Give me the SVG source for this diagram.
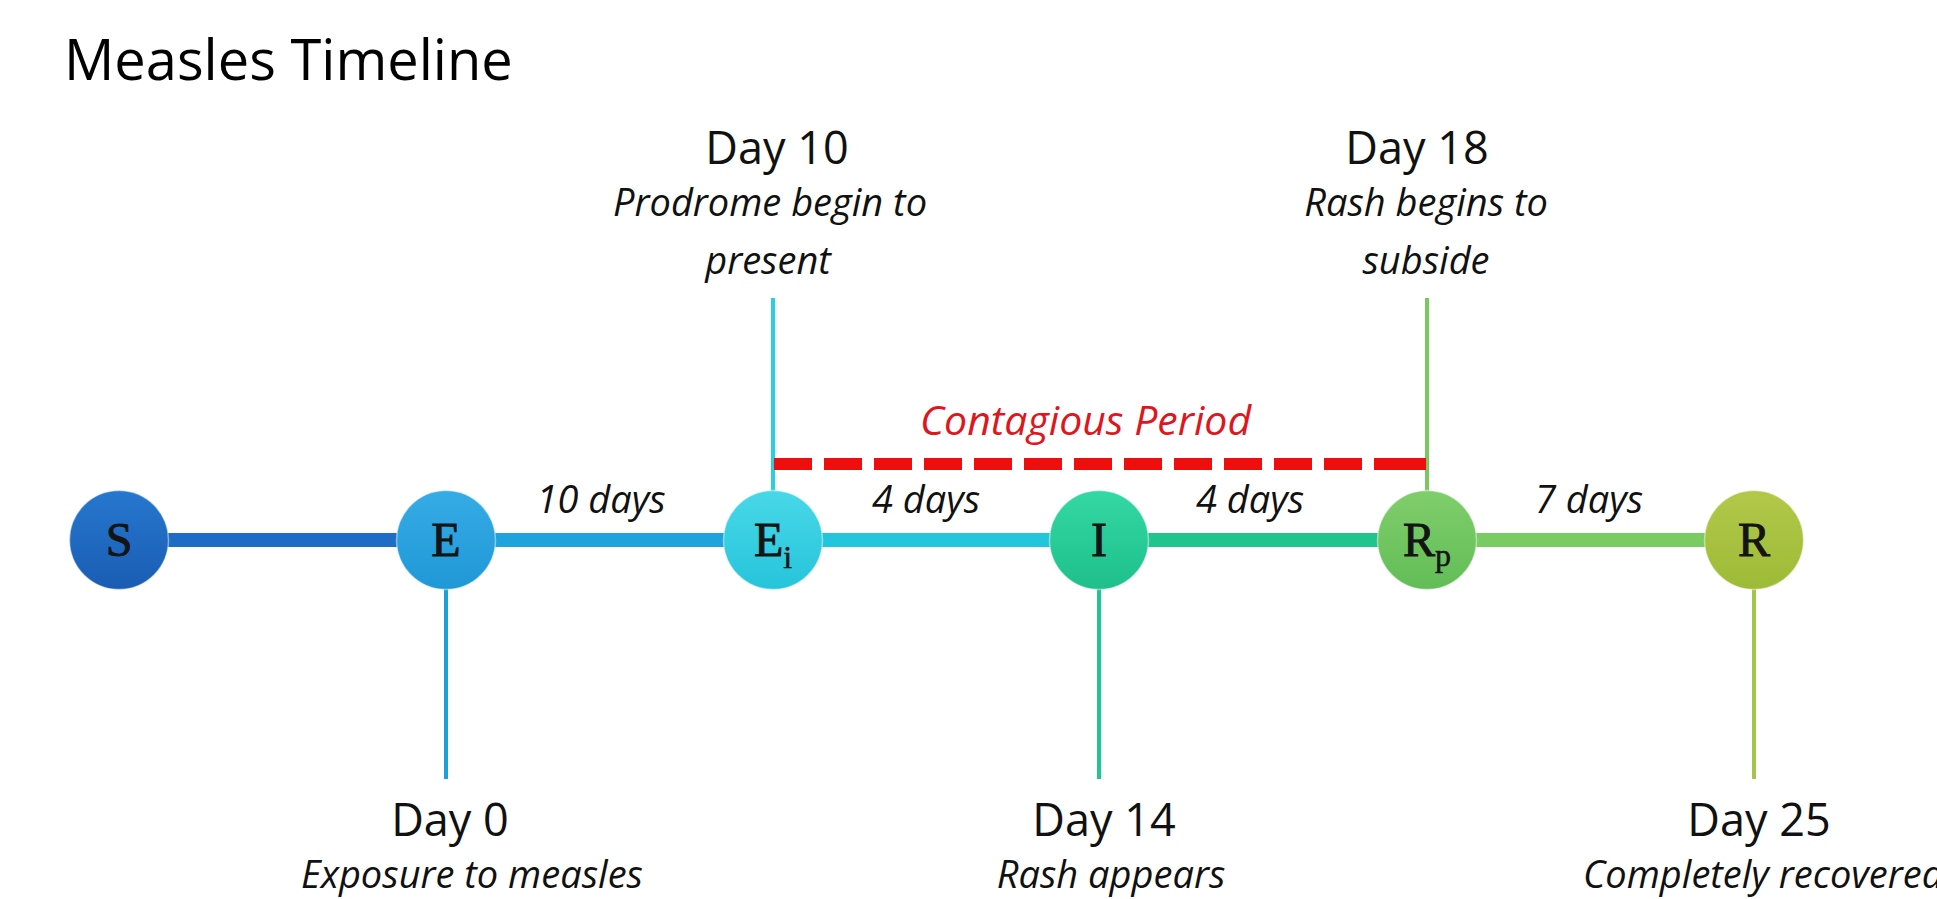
<svg xmlns="http://www.w3.org/2000/svg" width="1937" height="899" viewBox="0 0 1937 899">
<style>
.title{font-family:"Open Sans","Liberation Sans",sans-serif;font-size:56px;fill:#000}
.day{font-family:"Open Sans","Liberation Sans",sans-serif;font-size:45px;fill:#111;text-anchor:middle}
.desc{font-family:"Open Sans","Liberation Sans",sans-serif;font-size:38px;font-style:italic;fill:#111;text-anchor:middle}
.dur{font-family:"Open Sans","Liberation Sans",sans-serif;font-size:38px;font-style:italic;fill:#111;text-anchor:middle}
.red{font-family:"Open Sans","Liberation Sans",sans-serif;font-size:41px;font-style:italic;fill:#e0161e}
.ltr{font-family:"Liberation Serif","DejaVu Serif",serif;font-size:48px;fill:#141414;stroke:#141414;stroke-width:0.9;text-anchor:middle}
.sub{font-size:32px;stroke-width:0.5}
.seg{stroke-width:14;fill:none}
.vl{stroke-width:4;fill:none}
.node{stroke:#ffffff;stroke-opacity:0.45;stroke-width:1.5}
</style>
<defs>
<linearGradient id="gS" x1="0" y1="0" x2="0" y2="1"><stop offset="0" stop-color="#2677cf"/><stop offset="1" stop-color="#1a5db3"/></linearGradient>
<linearGradient id="gE" x1="0" y1="0" x2="0" y2="1"><stop offset="0" stop-color="#36ace6"/><stop offset="1" stop-color="#1f98d6"/></linearGradient>
<linearGradient id="gEi" x1="0" y1="0" x2="0" y2="1"><stop offset="0" stop-color="#48d8e8"/><stop offset="1" stop-color="#26c4da"/></linearGradient>
<linearGradient id="gI" x1="0" y1="0" x2="0" y2="1"><stop offset="0" stop-color="#34d8a2"/><stop offset="1" stop-color="#1ebf8a"/></linearGradient>
<linearGradient id="gRp" x1="0" y1="0" x2="0" y2="1"><stop offset="0" stop-color="#80ce6c"/><stop offset="1" stop-color="#62bd56"/></linearGradient>
<linearGradient id="gR" x1="0" y1="0" x2="0" y2="1"><stop offset="0" stop-color="#b2c84a"/><stop offset="1" stop-color="#9dbb36"/></linearGradient>
</defs>
<rect width="1937" height="899" fill="#ffffff"/>
<text class="title" x="64" y="80">Measles Timeline</text>

<g id="connectors">
<line class="seg" x1="168" y1="540" x2="398" y2="540" stroke="#1d6cc5"/>
<line class="seg" x1="494" y1="540" x2="725" y2="540" stroke="#1fa3dc"/>
<line class="seg" x1="821" y1="540" x2="1051" y2="540" stroke="#22c6dc"/>
<line class="seg" x1="1147" y1="540" x2="1379" y2="540" stroke="#21c48c"/>
<line class="seg" x1="1475" y1="540" x2="1706" y2="540" stroke="#79cb62"/>
<line class="vl" x1="446" y1="589" x2="446" y2="779" stroke="#1ba0d8"/>
<line class="vl" x1="773" y1="298" x2="773" y2="491" stroke="#2ccfe0"/>
<line class="vl" x1="1099" y1="589" x2="1099" y2="779" stroke="#22c490"/>
<line class="vl" x1="1427" y1="298" x2="1427" y2="491" stroke="#78c860"/>
<line class="vl" x1="1754" y1="589" x2="1754" y2="779" stroke="#a4c44c"/>
<g id="contagious">
<line x1="774" y1="464" x2="1374" y2="464" stroke="#ee0e0e" stroke-width="12" stroke-dasharray="38 12"/>
<line x1="1374" y1="464" x2="1426" y2="464" stroke="#ee0e0e" stroke-width="12"/>
</g>
</g>
<text class="dur" x="601" y="513">10 days</text>
<text class="dur" x="926" y="513">4 days</text>
<text class="dur" x="1250" y="513">4 days</text>
<text class="dur" x="1589" y="513">7 days</text>
<text class="red" x="920" y="435">Contagious Period</text>

<g id="node-S">
<circle class="node" cx="119" cy="540" r="49.5" fill="url(#gS)"/>
<text class="ltr" x="119" y="556">S</text>
</g>
<g id="node-E">
<circle class="node" cx="446" cy="540" r="49.5" fill="url(#gE)"/>
<text class="ltr" x="446" y="556">E</text>
<text class="day" x="450" y="836">Day 0</text>
<text class="desc" x="472" y="888">Exposure to measles</text>
</g>
<g id="node-Ei">
<circle class="node" cx="773" cy="540" r="49.5" fill="url(#gEi)"/>
<text class="ltr" x="773" y="556">E<tspan class="sub" dy="12">i</tspan></text>
<text class="day" x="777" y="164">Day 10</text>
<text class="desc" x="770" y="216">Prodrome begin to</text>
<text class="desc" x="768" y="274">present</text>
</g>
<g id="node-I">
<circle class="node" cx="1099" cy="540" r="49.5" fill="url(#gI)"/>
<text class="ltr" x="1099" y="556">I</text>
<text class="day" x="1104" y="836">Day 14</text>
<text class="desc" x="1111" y="888">Rash appears</text>
</g>
<g id="node-Rp">
<circle class="node" cx="1427" cy="540" r="49.5" fill="url(#gRp)"/>
<text class="ltr" x="1427" y="556">R<tspan class="sub" dy="10">p</tspan></text>
<text class="day" x="1417" y="164">Day 18</text>
<text class="desc" x="1426" y="216">Rash begins to</text>
<text class="desc" x="1426" y="274">subside</text>
</g>
<g id="node-R">
<circle class="node" cx="1754" cy="540" r="49.5" fill="url(#gR)"/>
<text class="ltr" x="1754" y="556">R</text>
<text class="day" x="1759" y="836">Day 25</text>
<text class="desc" x="1583" y="888" style="text-anchor:start">Completely recovered</text>
</g>
</svg>
